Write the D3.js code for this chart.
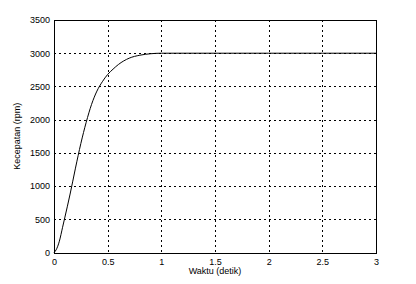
<!DOCTYPE html>
<html><head><meta charset="utf-8">
<script src="https://cdn.jsdelivr.net/npm/d3@7"></script>
<style>body{margin:0;background:#fff}svg{display:block}text{font-family:"Liberation Sans",Arial,sans-serif}</style>
</head><body><svg id="c" width="416" height="284"></svg>
<script>
const time = [0,0.02,0.05,0.08,0.1,0.15,0.2,0.25,0.3,0.35,0.4,0.45,0.5,0.55,0.6,0.7,0.8,0.9,1.0,1.5,2.0,2.5,3.0];
const speed = [0,40,170,380,520,880,1270,1640,1960,2230,2430,2570,2680,2760,2830,2925,2970,2992,3000,3000,3000,3000,3000];
const xTicks = [0,0.5,1,1.5,2,2.5,3];
const xTickLabels = ["0","0.5","1","1.5","2","2.5","3"];
const yTicks = [0,500,1000,1500,2000,2500,3000,3500];
const yTickLabels = ["0","500","1000","1500","2000","2500","3000","3500"];
const xLabel = "Waktu (detik)";
const yLabel = "Kecepatan (rpm)";

const svg = d3.select("#c");
const L=54,R=376,T=20,B=252.5;
const x = d3.scaleLinear().domain([0,3]).range([L,R]);
const y = d3.scaleLinear().domain([0,3500]).range([B,T]);

// grid
const g = svg.append("g");
g.selectAll(".vx").data(xTicks.slice(1,-1)).enter().append("line")
  .attr("x1",d=>Math.round(x(d))+0.5).attr("x2",d=>Math.round(x(d))+0.5)
  .attr("y1",T).attr("y2",B).attr("stroke","#000").attr("stroke-width",1).attr("stroke-dasharray","2,3");
g.selectAll(".hy").data(yTicks.slice(1)).enter().append("line")
  .attr("y1",d=>Math.round(y(d))+0.5).attr("y2",d=>Math.round(y(d))+0.5)
  .attr("x1",L).attr("x2",R).attr("stroke","#000").attr("stroke-width",1).attr("stroke-dasharray","2,3");

// box
svg.append("rect").attr("x",L+0.5).attr("y",T+0.5).attr("width",R-L).attr("height",Math.round(B)-T)
  .attr("fill","none").attr("stroke","#000").attr("stroke-width",1);

// axes
const xa = d3.axisBottom(x).tickValues(xTicks).tickFormat((d,i)=>xTickLabels[i]).tickSize(0).tickPadding(5);
svg.append("g").attr("transform",`translate(0,${Math.round(B)+0.5})`).call(xa)
  .call(a=>a.select(".domain").remove())
  .selectAll("text").attr("font-size",9).attr("fill","#000");
const ya = d3.axisLeft(y).tickValues(yTicks).tickFormat((d,i)=>yTickLabels[i]).tickSize(0).tickPadding(4);
svg.append("g").attr("transform",`translate(${L},0)`).call(ya)
  .call(a=>a.select(".domain").remove())
  .selectAll("text").attr("font-size",9).attr("fill","#000");

// curve
const line = d3.line().x((d,i)=>x(time[i])).y(d=>y(d)).curve(d3.curveMonotoneX);
svg.append("path").attr("d",line(speed)).attr("fill","none").attr("stroke","#000").attr("stroke-width",1);

svg.append("text").attr("x",(L+R)/2).attr("y",274).attr("text-anchor","middle").attr("font-size",9).text(xLabel);
svg.append("text").attr("transform",`translate(20,${(T+B)/2}) rotate(-90)`).attr("text-anchor","middle").attr("font-size",9).text(yLabel);
</script></body></html>
